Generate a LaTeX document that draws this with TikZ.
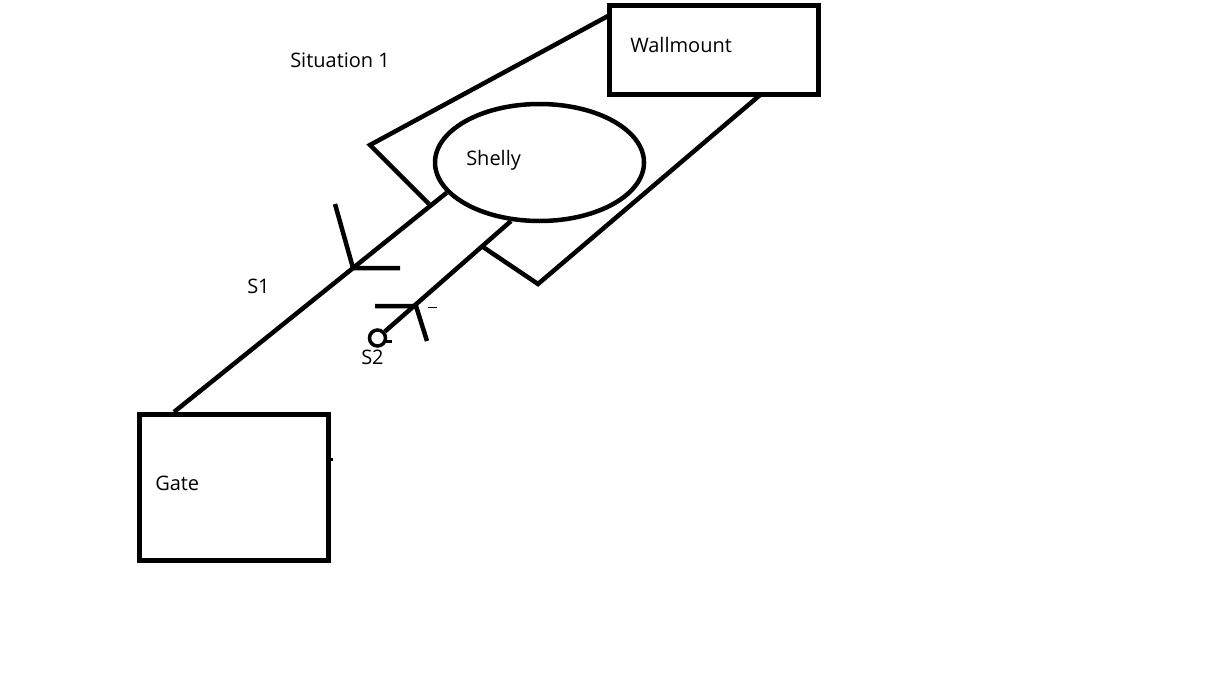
\documentclass[tikz,border=0pt]{standalone}
\usepackage{fontspec}
\setmainfont{Open Sans}
\usetikzlibrary{shapes.geometric}
\begin{document}
\begin{tikzpicture}[x=1pt,y=-1pt,line width=4.5pt,
        box/.style={draw,rectangle,line width=5pt,inner sep=0pt},
        blob/.style={draw,ellipse,line width=4.5pt,inner sep=0pt,minimum width=209pt,minimum height=117pt},
        lbl/.style={anchor=base west,inner sep=0pt,font=\fontsize{20}{24}\selectfont}]
        \useasboundingbox (0,0) rectangle (1228,691);
        %\draw[gray] (0,0) grid[step=100] (1228,691);

        \node[box,minimum width=209pt,minimum height=89pt] (wallmount) at (714,49.5) {};
        \node[box,minimum width=189pt,minimum height=146pt] (gate) at (234,487.5) {};
        \node[blob] (shelly) at (539.5,162.5) {};
        \node[draw,circle,line width=3.5pt,inner sep=0pt,minimum size=16pt] (s2end) at (377.5,338) {};

        % mount outline
        \draw (608,16) -- (370,145) -- (429,204) (760,95) -- (538,284) -- (483,247);

        % wires
        \draw (shelly.198) -- ([xshift=37pt]gate.north west);
        \draw (shelly.244) -- (s2end);

        \draw (335,204) -- (353,268) -- (400,268) (375,306) -- (416,306) -- (427,341);
        \draw[line width=1pt] (428,307) -- (437,307);
        \draw[line width=3pt] (386,341) -- (392,341) (329,459) -- (333,459);

        \node[lbl] (wallmounttext) at (628,52) {Wallmount};
        \node[lbl] (shellytext) at (464,165) {Shelly};
        \node[lbl] (gatetext) at (153,490) {Gate};
        \node[lbl] (title) at (288,67) {Situation 1};
        \node[lbl] (s1text) at (245,293) {S1};
        \node[lbl] (s2text) at (359,364) {S2};
    \end{tikzpicture}
\end{document}
